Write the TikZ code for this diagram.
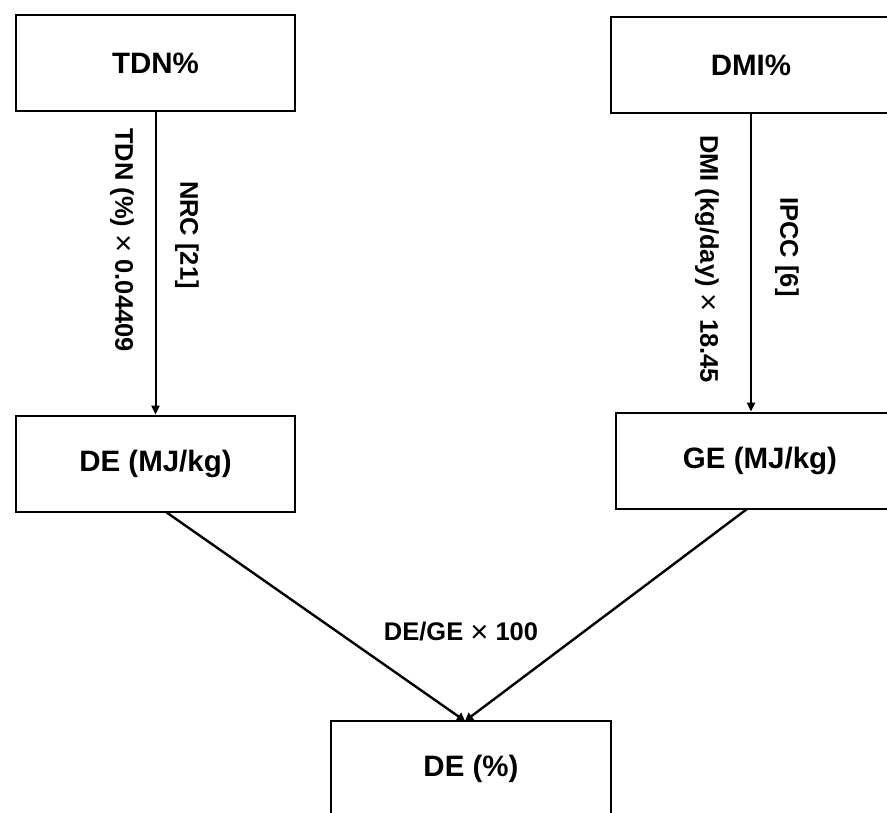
\documentclass[tikz,border=0pt]{standalone}
\usepackage{fontspec}
\setmainfont{Liberation Sans}
\usetikzlibrary{arrows.meta}
\newcommand{\tms}{ \raisebox{-2pt}{\mdseries\fontsize{31}{31}\selectfont ×} }
\begin{document}
\begin{tikzpicture}[x=1pt,y=-1pt,
  box/.style={draw, line width=2.8pt, minimum width=279pt, minimum height=96pt,
    inner sep=0pt, font=\bfseries\fontsize{29.5}{34}\selectfont},
  lbl/.style={font=\bfseries\fontsize{25.5}{30}\selectfont, inner sep=0pt},
  conn/.style={line width=2pt, -{Triangle[length=9pt,width=8pt]}},
  diag/.style={line width=2.4pt, -{Triangle[length=8pt,width=9pt]}}]
\useasboundingbox (0,0) rectangle (887,812);
\clip (0,0) rectangle (887,812);
% source and result boxes
\node[box] (tdn) at (155.5,63) {TDN\%};
\node[box, minimum width=280pt] (dmi) at (751,65) {DMI\%};
\node[box] (demj) at (155.5,464) {DE (MJ/kg)};
\node[box, minimum width=288pt] (ge) at (760,461) {GE (MJ/kg)};
\node[box, minimum width=280pt] (dep) at (471,769) {DE (\%)};
% conversions
\draw[conn] (tdn.south) -- (demj.north);
\draw[conn] (dmi.south) -- (dmi.south |- ge.north);
\coordinate (ls) at (166,512);
\coordinate (rs) at (747,509);
\coordinate (meet) at (465,721);
\draw[diag] (ls) -- (meet);
\draw[diag] (rs) -- (meet);
% formula labels
\node[lbl, rotate=-90] (tdnf) at (122,240) {TDN (\%)\tms 0.04409};
\node[lbl, rotate=-90] (nrc) at (187,235) {NRC [21]};
\node[lbl, rotate=-90] (dmif) at (707,259) {DMI (kg/day)\tms 18.45};
\node[lbl, rotate=-90] (ipcc) at (787,247) {IPCC [6]};
\node[lbl] (ratio) at (461,632) {DE/GE\tms 100};
\end{tikzpicture}
\end{document}
